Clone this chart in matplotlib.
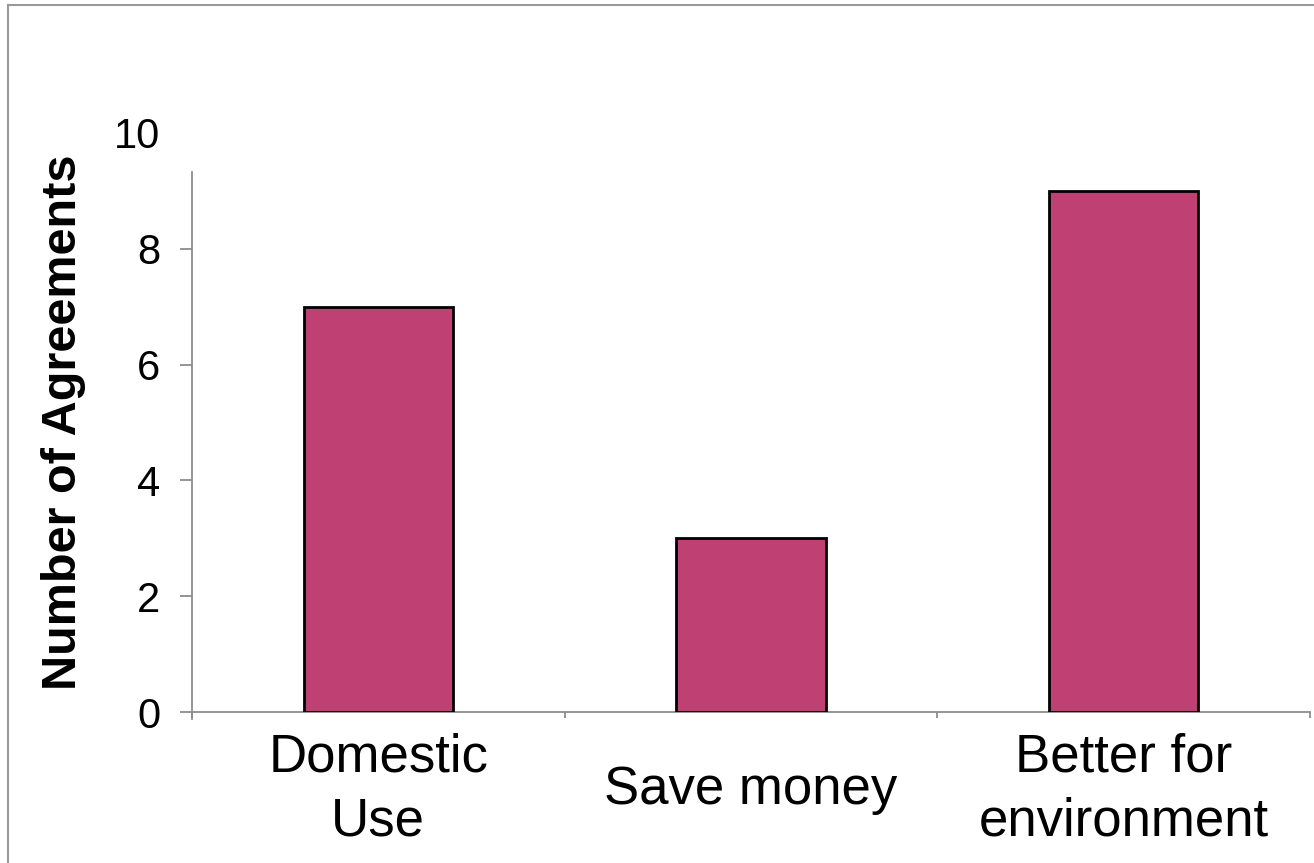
import numpy as np
import matplotlib.pyplot as plt
from matplotlib.lines import Line2D


# data
categories = ['Domestic\nUse', 'Save money', 'Better for\nenvironment']
agreements = [7, 3, 9]
yticks = [0, 2, 4, 6, 8, 10]

bar_color = '#BF4173'
axis_gray = '#8c8c8c'

plt.rcParams['font.family'] = ['Liberation Sans', 'DejaVu Sans']

fig = plt.figure(figsize=(13.14, 8.63), dpi=100)
ax = fig.add_axes([192/1314, 1 - 712/863, (1310 - 192)/1314, (712 - 133)/863])

x = np.arange(len(categories))
ax.bar(x, agreements, width=0.40, color=bar_color, edgecolor='black', linewidth=2, zorder=3)

ax.set_xlim(-0.5, len(categories) - 0.5)
ax.set_ylim(0, 10)

# spines
for side in ['top', 'right']:
  ax.spines[side].set_visible(False)
ax.spines['left'].set_color(axis_gray)
ax.spines['bottom'].set_color(axis_gray)
ax.spines['left'].set_linewidth(1.3)
ax.spines['bottom'].set_linewidth(1.3)
ax.spines['left'].set_bounds(-0.12, 9.32)

# y ticks
ax.set_yticks(yticks)
ax.set_yticklabels([str(v) for v in yticks])
ax.tick_params(axis='y', length=9, width=1.3, color=axis_gray, pad=14, labelsize=30)
ax.yaxis.get_major_ticks()[-1].tick1line.set_visible(False)

# x ticks at category boundaries, labels in between
ax.set_xticks(np.arange(-0.5, len(categories), 1.0))
ax.set_xticklabels([''] * (len(categories) + 1))
ax.tick_params(axis='x', which='major', length=4, width=1.3, color=axis_gray)
ax.set_xticks(x, minor=True)
ax.set_xticklabels(categories, minor=True)
ax.tick_params(axis='x', which='minor', length=0, pad=56, labelsize=38)
for lab in ax.get_xticklabels(minor=True):
  lab.set_verticalalignment('center')
  lab.set_linespacing(1.37)

ax.set_ylabel('Number of Agreements', fontsize=35, fontweight='bold')
ax.yaxis.set_label_coords(-0.095, 0.5)

# frame lines on the left and top edges of the picture
fig.add_artist(Line2D([8/1314, 8/1314], [0, 1 - 5/863], color='#999999', lw=1.5))
fig.add_artist(Line2D([8/1314, 1], [1 - 5/863, 1 - 5/863], color='#999999', lw=1.5))

fig.savefig('out.png', dpi=100)
